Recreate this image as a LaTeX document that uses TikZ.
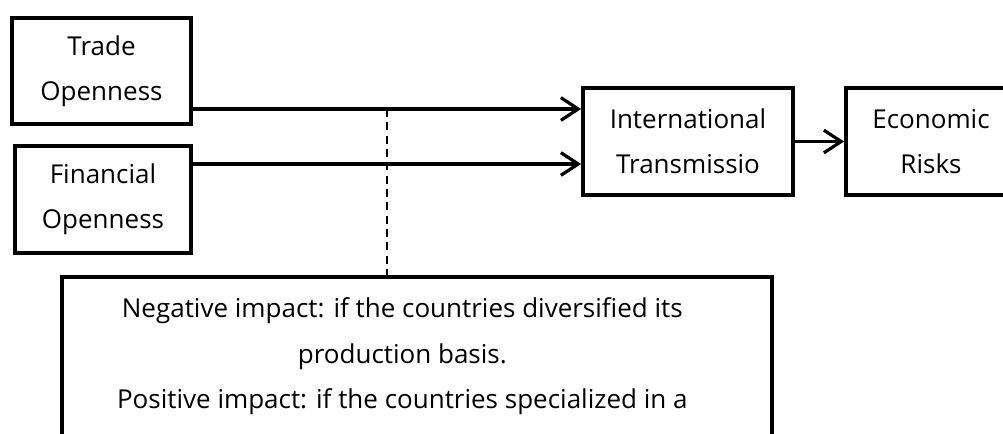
\documentclass[tikz,border=0pt]{standalone}
\usepackage{fontspec}
\setmainfont{Open Sans}
\usetikzlibrary{positioning, arrows.meta}
\tikzset {
    >={Straight Barb[length=13pt, width=17pt]},
    x=0.75pt, y=0.75pt
}

\begin{document}
\begin{tikzpicture}[
  every node/.style={font=\fontsize{19.5}{34}\selectfont, align=center},
  box/.style={draw, line width=2.8pt, inner sep=0pt, minimum height=80pt,
    execute at begin node=\rule{0pt}{21.5pt}},
  flow/.style={->, line width=2.4pt},
  link/.style={line width=1.8pt, dash pattern=on 6pt off 4pt}
  ]
\useasboundingbox (0,0) rectangle (1003,433);
\clip (0,0) rectangle (1003,433);

% left inputs
\node[box, minimum width=134pt] (trade) at (101.5,362) {Trade\\Openness};
\node[box, minimum width=132pt] (fin) at (103,233.5) {Financial\\Openness};

% right chain
\node[box, minimum width=157.5pt] (intl) at (688,291.5) {International\\Transmissio};
\node[box, minimum width=127.5pt] (econ) at (931,291.5) {Economic\\Risks};

% note below
\node[box, minimum width=532.5pt, minimum height=200pt, anchor=north] (note) at (417,158) {};
\node[anchor=north, inner sep=0pt] (notetext) at ([xshift=-11pt, yshift=-17pt]note.north)
  {Negative impact: if the countries diversified its\\
   production basis.\\
   Positive impact: if the countries specialized in a};

\coordinate (tap) at (387,324);
\coordinate (fintap) at (387,269);

\draw[flow] (trade.east |- tap) -- (intl.west |- tap);
\draw[flow] (fin.east |- fintap) -- (intl.west |- fintap);
\draw[flow] (intl) -- (econ);
\draw[link] (tap) -- (tap |- note.north);

\end{tikzpicture}
\end{document}
